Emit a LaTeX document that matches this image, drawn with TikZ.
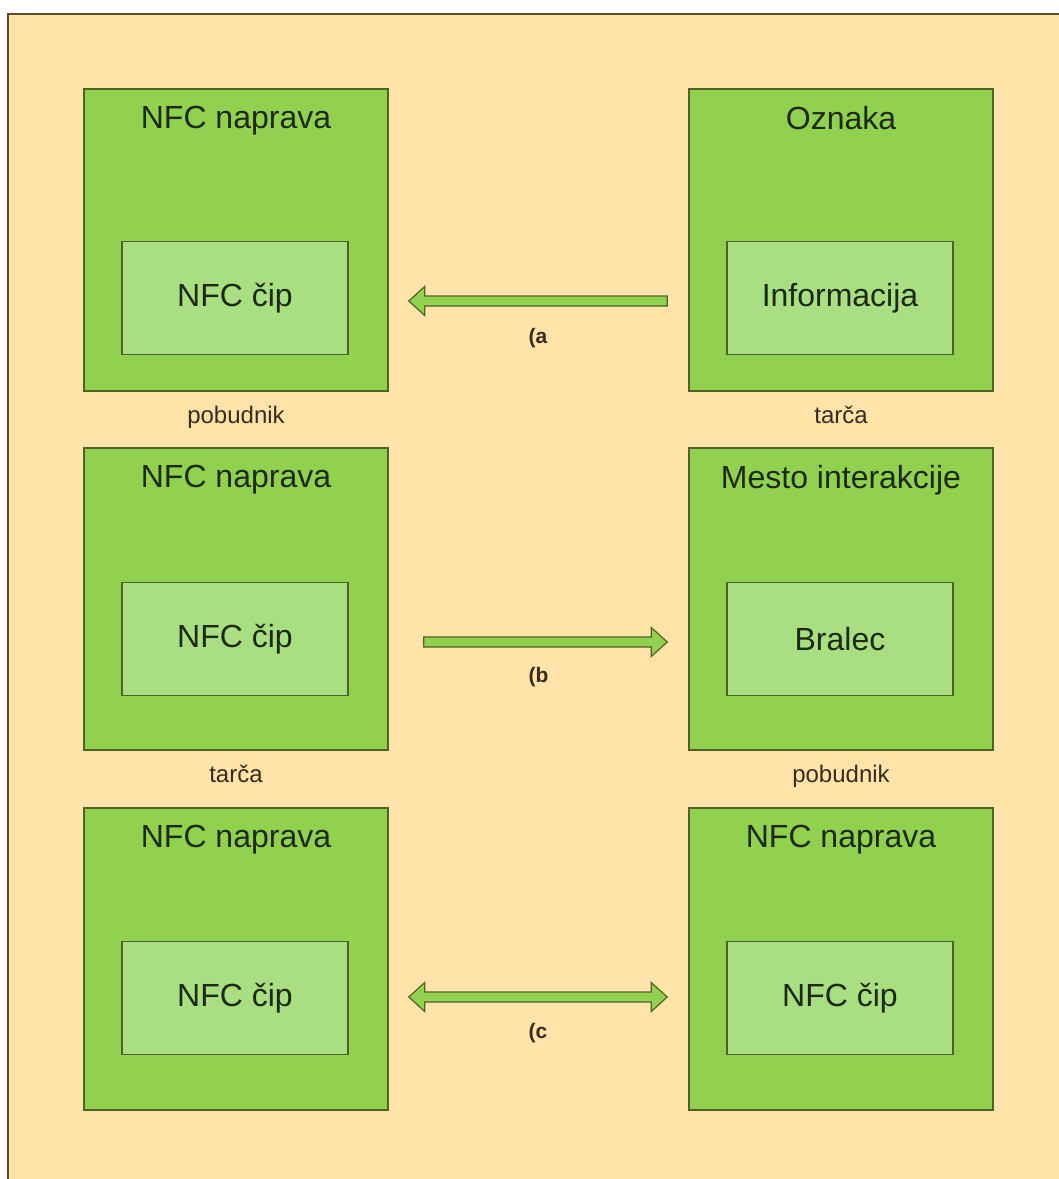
\documentclass[tikz,border=0pt]{standalone}
\usepackage{fontspec}
\setmainfont{Liberation Sans}
\usetikzlibrary{calc,positioning}
\definecolor{pozadje}{HTML}{FFE3A9}
\definecolor{zelena}{HTML}{92D050}
\definecolor{svetla}{HTML}{A9DF82}
\definecolor{obroba}{HTML}{4F6228}
\definecolor{rob}{HTML}{5E4B2C}
\definecolor{besedilo}{HTML}{1C2B10}
\definecolor{vlogabarva}{HTML}{3A2A1A}

\begin{document}
\begin{tikzpicture}[x=1pt,y=-1pt,
    naprava/.style={draw=obroba, fill=zelena, line width=1.5pt, minimum width=304pt, minimum height=302pt, inner sep=0pt},
    cip/.style={draw=obroba, fill=svetla, line width=1.5pt, minimum width=226pt, minimum height=113pt, inner sep=0pt, font=\fontsize{32}{38}\selectfont, text=besedilo},
    naslov/.style={anchor=north, inner sep=0pt, font=\fontsize{32}{38}\selectfont, text=besedilo},
    vloga/.style={anchor=north, inner sep=0pt, font=\fontsize{24}{28}\selectfont, text=vlogabarva},
    crka/.style={inner sep=0pt, font=\bfseries\fontsize{21}{25}\selectfont, text=vlogabarva},
    puscica/.style={draw=obroba, fill=zelena, line width=1.2pt, line join=miter}]
    \useasboundingbox (0,0) rectangle (1059,1179);
    \fill[pozadje] (8,14) rectangle (1059,1179);
    \draw[rob, line width=2pt] (8,1179) -- (8,14) -- (1059,14);

    % (a) oznaka -> naprava
    \node[naprava] (napravaA) at (236,240) {};
    \node[cip] (cipA) at (235,298) {NFC čip};
    \node[naslov] (naslovA) at ($(napravaA.north)+(0,18)$) {NFC naprava};
    \node[vloga] (vlogaA) at ($(napravaA.south)+(0,14)$) {pobudnik};
    \node[naprava] (oznakaA) at (841,240) {};
    \node[cip] (infoA) at (840,298) {Informacija};
    \node[naslov] (naslovOznaka) at ($(oznakaA.north)+(0,18)$) {Oznaka};
    \node[vloga] (vlogaOznaka) at ($(oznakaA.south)+(0,14)$) {tarča};
    \coordinate (aKonec) at ($(cipA.east)+(60,3)$);
    \coordinate (aZacetek) at ($(infoA.west)+(-59,3)$);
    \draw[puscica] (aKonec) -- ++(16,-14.5) -- ++(0,9.5) -- ($(aZacetek)+(0,-5)$)
        -- ++(0,10) -- ($(aKonec)+(16,5)$) -- ++(0,9.5) -- cycle;
    \node[crka] (crkaA) at ($(aKonec)!0.5!(aZacetek)+(0,37)$) {(a};

    % (b) naprava -> mesto interakcije
    \node[naprava] (napravaB) at (236,599) {};
    \node[cip] (cipB) at (235,639) {NFC čip};
    \node[naslov] (naslovB) at ($(napravaB.north)+(0,18)$) {NFC naprava};
    \node[vloga] (vlogaB) at ($(napravaB.south)+(0,14)$) {tarča};
    \node[naprava] (mestoB) at (841,599) {};
    \node[cip] (bralecB) at (840,639) {Bralec};
    \node[naslov] (naslovMesto) at ($(mestoB.north)+(0,18)$) {Mesto interakcije};
    \node[vloga] (vlogaMesto) at ($(mestoB.south)+(0,14)$) {pobudnik};
    \coordinate (bZacetek) at ($(cipB.east)+(75,3)$);
    \coordinate (bKonec) at ($(bralecB.west)+(-59,3)$);
    \draw[puscica] ($(bZacetek)+(0,-5)$) -- ($(bKonec)+(-16,-5)$) -- ++(0,-9.5) -- (bKonec)
        -- ++(-16,14.5) -- ++(0,-9.5) -- ($(bZacetek)+(0,5)$) -- cycle;
    \node[crka] (crkaB) at ($(bZacetek)!0.5!(bKonec)+(-7,35)$) {(b};

    % (c) naprava <-> naprava
    \node[naprava] (napravaC) at (236,959) {};
    \node[cip] (cipC) at (235,998) {NFC čip};
    \node[naslov] (naslovC) at ($(napravaC.north)+(0,18)$) {NFC naprava};
    \node[naprava] (napravaD) at (841,959) {};
    \node[cip] (cipD) at (840,998) {NFC čip};
    \node[naslov] (naslovD) at ($(napravaD.north)+(0,18)$) {NFC naprava};
    \coordinate (cLevo) at ($(cipC.east)+(60,-1)$);
    \coordinate (cDesno) at ($(cipD.west)+(-59,-1)$);
    \draw[puscica] (cLevo) -- ++(16,-14.5) -- ++(0,9.5) -- ($(cDesno)+(-16,-5)$) -- ++(0,-9.5)
        -- (cDesno) -- ++(-16,14.5) -- ++(0,-9.5) -- ($(cLevo)+(16,5)$) -- ++(0,9.5) -- cycle;
    \node[crka] (crkaC) at ($(cLevo)!0.5!(cDesno)+(0,36)$) {(c};
\end{tikzpicture}
\end{document}
